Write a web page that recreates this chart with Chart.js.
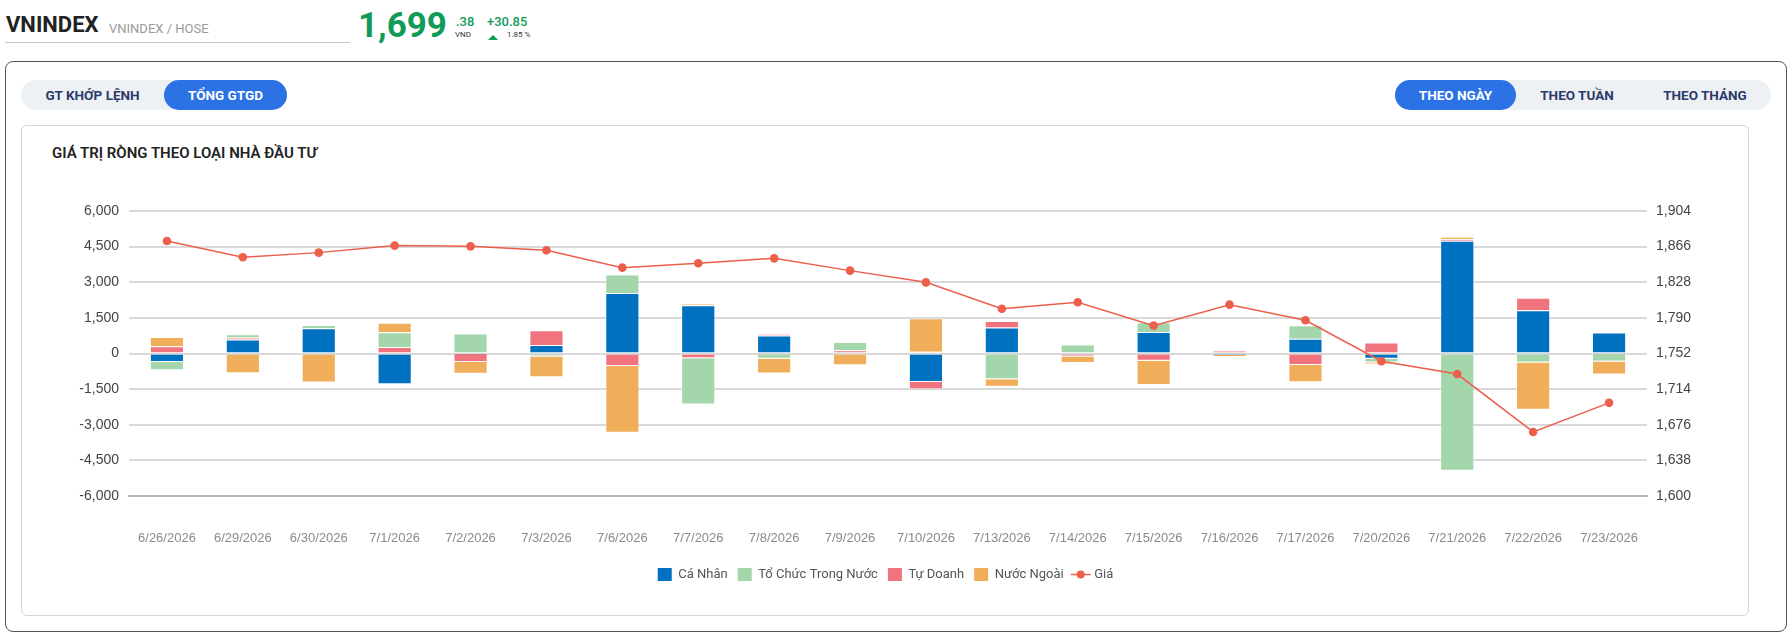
<!DOCTYPE html>
<html lang="vi">
<head>
<meta charset="utf-8">
<title>VNINDEX - Giá trị ròng theo loại nhà đầu tư</title>
<script src="https://cdn.jsdelivr.net/npm/chart.js@4.4.1/dist/chart.umd.min.js"></script>
<style>
  html, body { margin: 0; padding: 0; background: #fff; }
  body { width: 1792px; height: 637px; position: relative; overflow: hidden; font-family: Roboto, "Noto Sans", sans-serif; }
  .t { position: absolute; line-height: 1; white-space: nowrap; }
  .green { color: #109c58; }
  .box { position: absolute; box-sizing: border-box; }
  .pill { position: absolute; height: 30px; border-radius: 15px; background: #eef1f4; }
  .pill .act { position: absolute; top: 0; height: 30px; border-radius: 15px; background: #2c72e4; }
  .pill span { position: absolute; top: 0; line-height: 30px; font-size: 13.5px; font-weight: 700; text-align: center; color: #2b3a6b; }
  .pill span.on { color: #fff; }
</style>
</head>
<body>

<!-- header -->
<div class="t" style="left:6px; top:14px; font-size:22px; font-weight:700; color:#222;">VNINDEX</div>
<div class="t" style="left:109px; top:22px; font-size:13px; color:#9a9a9a;">VNINDEX / HOSE</div>
<div class="box" style="left:5px; top:42px; width:345px; height:1px; background:#c8c8c8;"></div>

<div class="t green" style="left:358px; top:8px; font-size:35px; font-weight:700;">1,699</div>
<div class="t green" style="left:456px; top:15px; font-size:13px; font-weight:500;">.38</div>
<div class="t" style="left:455px; top:31px; font-size:8px; color:#333;">VND</div>
<div class="t green" style="left:487px; top:15px; font-size:13px; font-weight:500;">+30.85</div>
<div class="box" style="left:488px; top:35px; width:0; height:0; border-left:5px solid transparent; border-right:5px solid transparent; border-bottom:5px solid #109c58;"></div>
<div class="t" style="left:507px; top:31px; font-size:8px; color:#333;">1.85 %</div>

<!-- outer panel -->
<div class="box" style="left:5px; top:61px; width:1782px; height:571px; border:1px solid #50555f; border-radius:8px;"></div>

<div class="pill" style="left:21px; top:80px; width:266px;">
  <div class="act" style="left:143px; width:123px;"></div>
  <span style="left:0; width:143px;">GT KHỚP LỆNH</span>
  <span class="on" style="left:143px; width:123px;">TỔNG GTGD</span>
</div>

<div class="pill" style="left:1395px; top:80px; width:376px;">
  <div class="act" style="left:0; width:121px;"></div>
  <span class="on" style="left:0; width:121px;">THEO NGÀY</span>
  <span style="left:121px; width:122px;">THEO TUẦN</span>
  <span style="left:248px; width:124px;">THEO THÁNG</span>
</div>

<!-- chart card -->
<div class="box" style="left:21px; top:125px; width:1728px; height:491px; border:1px solid #d6d6d6; border-radius:6px;"></div>
<div class="t" style="left:52px; top:146px; font-size:15px; font-weight:600; color:#222;">GIÁ TRỊ RÒNG THEO LOẠI NHÀ ĐẦU TƯ</div>

<div style="position:absolute; left:22px; top:190px; width:1727px; height:406px;">
  <canvas id="netChart"></canvas>
</div>

<script>
// ngày giao dịch
const dates = ["6/26/2026", "6/29/2026", "6/30/2026", "7/1/2026", "7/2/2026", "7/3/2026", "7/6/2026",
  "7/7/2026", "7/8/2026", "7/9/2026", "7/10/2026", "7/13/2026", "7/14/2026", "7/15/2026",
  "7/16/2026", "7/17/2026", "7/20/2026", "7/21/2026", "7/22/2026", "7/23/2026"];

// giá trị ròng (tỷ đồng) theo loại nhà đầu tư
const caNhan = [-360, 590, 1060, -1290, -20, 360, 2550, 2030, 760, 0, -1200, 1090, -40, 910, -10, 620, -220, 4750, 1820, 880];
const toChuc = [-350, 140, 130, 630, 840, -130, 780, -1950, -220, 340, 70, -1080, 380, 410, -50, 570, -160, -4940, -380, -310];
const tuDoanh = [310, 80, 15, 270, -340, 620, -530, -200, 60, 140, -310, 280, -90, -310, 130, -480, 460, 60, 530, -25];
const nuocNgoai = [390, -830, -1220, 390, -490, -870, -2810, 70, -620, -490, 1410, -320, -270, -1020, -90, -730, -80, 110, -1990, -550];

// giá đóng cửa VNINDEX
const gia = [1872.0, 1854.6, 1859.6, 1867.1, 1866.3, 1862.1, 1843.6, 1848.2, 1853.5, 1840.4,
  1827.9, 1799.8, 1806.6, 1781.7, 1804.1, 1787.4, 1743.7, 1730.1, 1668.3, 1699.38];

const leftTicks = [-6000, -4500, -3000, -1500, 0, 1500, 3000, 4500, 6000];
const rightTicks = [1600, 1638, 1676, 1714, 1752, 1790, 1828, 1866, 1904];

const fmt = (v) => Number(v).toLocaleString("en-US");
const lineColor = "#ec5f4b";

// vẽ ký hiệu đường + chấm cho mục "Giá" trong chú thích
const legendLinePlugin = {
    id: "legendLine",
    afterDraw(chart) {
        const legend = chart.legend;
        if (!legend || !legend.legendHitBoxes) return;
        const idx = legend.legendItems.findIndex((it) => it.datasetIndex === 4);
        const hb = legend.legendHitBoxes[idx];
        if (!hb) return;
        const ctx = chart.ctx;
        const y = hb.top + hb.height / 2;
        ctx.save();
        ctx.strokeStyle = lineColor;
        ctx.lineWidth = 1.5;
        ctx.beginPath();
        ctx.moveTo(hb.left - 3, y);
        ctx.lineTo(hb.left + 17, y);
        ctx.stroke();
        ctx.fillStyle = lineColor;
        ctx.beginPath();
        ctx.arc(hb.left + 7, y, 4, 0, Math.PI * 2);
        ctx.fill();
        ctx.restore();
    },
};

const barDs = (label, data, color, order) => ({
    type: "bar",
    label: label,
    data: data,
    backgroundColor: color,
    borderColor: "rgba(255,255,255,0.35)",
    borderWidth: 1,
    yAxisID: "y",
    order: order,
    barPercentage: 0.9,
    categoryPercentage: 0.5,
});

const ctx = document.getElementById("netChart").getContext("2d");
const netChart = new Chart(ctx, {
    data: {
        labels: dates,
        datasets: [
            barDs("Cá Nhân", caNhan, "#0070c0", 1),
            barDs("Tổ Chức Trong Nước", toChuc, "#a3d6ab", 3),
            barDs("Tự Doanh", tuDoanh, "#f1737e", 2),
            barDs("Nước Ngoài", nuocNgoai, "#f0ad5a", 4),
            {
                type: "line",
                label: "Giá",
                data: gia,
                borderColor: lineColor,
                backgroundColor: lineColor,
                borderWidth: 1.5,
                pointRadius: 4.3,
                pointBorderWidth: 0,
                tension: 0,
                yAxisID: "y1",
                order: 0,
            },
        ],
    },
    options: {
        responsive: true,
        maintainAspectRatio: false,
        animation: false,
        layout: { padding: { top: 21, bottom: 5, left: 0, right: 0 } },
        plugins: {
            tooltip: { enabled: false },
            legend: {
                position: "bottom",
                labels: {
                    boxWidth: 14,
                    boxHeight: 13,
                    padding: 10,
                    color: "#555",
                    font: { family: "Roboto", size: 13 },
                    sort: (a, b) => a.datasetIndex - b.datasetIndex,
                    generateLabels(chart) {
                        const items = Chart.defaults.plugins.legend.labels.generateLabels(chart);
                        items.forEach((it) => {
                            if (it.datasetIndex === 4) {
                                it.fillStyle = "rgba(0,0,0,0)";
                                it.strokeStyle = "rgba(0,0,0,0)";
                            }
                            it.lineWidth = 0;
                        });
                        return items;
                    },
                },
            },
        },
        scales: {
            x: {
                stacked: true,
                grid: { display: false },
                border: { display: true, color: "#b5b5b5", width: 2 },
                ticks: {
                    padding: 27,
                    color: "#8a8a8a",
                    font: { family: "Liberation Sans", size: 13 },
                    maxRotation: 0,
                    autoSkip: false,
                },
                afterFit(scale) { scale.height = 62; },
            },
            y: {
                stacked: true,
                position: "left",
                min: -6000,
                max: 6000,
                afterBuildTicks(scale) { scale.ticks = leftTicks.map((v) => ({ value: v })); },
                grid: { color: "#d9d9d9", lineWidth: 2, drawTicks: false },
                border: { display: false },
                ticks: {
                    padding: 10,
                    color: "#444",
                    font: { family: "Liberation Sans", size: 14 },
                    callback: (v) => fmt(v),
                },
                afterFit(scale) { scale.width = 107; },
            },
            y1: {
                position: "right",
                min: 1600,
                max: 1904,
                afterBuildTicks(scale) { scale.ticks = rightTicks.map((v) => ({ value: v })); },
                grid: { display: false, drawTicks: false },
                border: { display: false },
                ticks: {
                    padding: 9,
                    color: "#444",
                    font: { family: "Liberation Sans", size: 14 },
                    callback: (v) => fmt(v),
                },
                afterFit(scale) { scale.width = 102; },
            },
        },
    },
    plugins: [legendLinePlugin],
});
</script>
</body>
</html>
